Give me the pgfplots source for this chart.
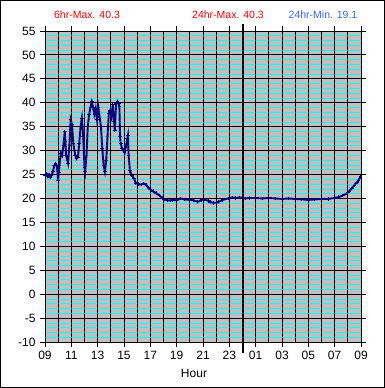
\documentclass[border=0pt]{standalone}
\usepackage{pgfplots}
\pgfplotsset{compat=1.18}
\usetikzlibrary{calc}
\usepackage{fontspec}
\setmainfont{Liberation Sans}
\definecolor{bggray}{RGB}{192,192,192}
\definecolor{gridcyan}{RGB}{0,255,255}
\definecolor{navyline}{RGB}{0,0,128}
\definecolor{titlered}{RGB}{255,0,0}
\definecolor{titleblue}{RGB}{51,102,255}
\begin{document}
\begin{tikzpicture}[x=1pt,y=1pt]
\useasboundingbox (0,0) rectangle (385,388);
\draw[line width=1.2pt] (0.6,0.6) rectangle (384.4,387.4);
\node[font=\fontsize{10.5}{12}\selectfont, text=titlered] at (87,373) {6hr-Max. 40.3};
\node[font=\fontsize{10.5}{12}\selectfont, text=titlered] at (228,373) {24hr-Max. 40.3};
\node[font=\fontsize{10.5}{12}\selectfont, text=titleblue] at (323,373) {24hr-Min. 19.1};
\node[font=\fontsize{12}{14}\selectfont] at (194,15) {Hour};
\begin{axis}[
  at={(45pt,46pt)}, anchor=south west,
  scale only axis, width=316pt, height=311pt,
  xmin=0, xmax=24, ymin=-10, ymax=55,
  axis background/.style={fill=bggray,
    path picture={
      \foreach \v in {-9,-8,-7,-6,-4,-3,-2,-1,1,2,3,4,6,7,8,9,11,12,13,14,16,17,18,19,21,22,23,24,26,27,28,29,31,32,33,34,36,37,38,39,41,42,43,44,46,47,48,49,51,52,53,54}{
        \pgfmathsetmacro\f{(\v+10)/65}
        \draw[gridcyan, line width=0.7pt]
          ($(path picture bounding box.south west)!\f!(path picture bounding box.north west)$) --
          ($(path picture bounding box.south east)!\f!(path picture bounding box.north east)$);
      }
    }},
  axis line style={black, line width=0.9pt},
  xtick={0,1,...,24}, xticklabels={},
  x tick style={draw=none},
  extra x ticks={0,2,...,24},
  extra x tick labels={09,11,13,15,17,19,21,23,01,03,05,07,09},
  extra x tick style={x tick style={draw=black, line width=0.9pt}, grid=none},
  ytick={-10,-5,...,55},
  yticklabels={-10,-5,0,5,10,15,20,25,30,35,40,45,50,55},
  y tick style={black, line width=0.9pt},
  tick align=outside, major tick length=5pt,
  xmajorgrids, ymajorgrids,
  major grid style={black, line width=0.9pt},
  ticklabel style={font=\fontsize{12}{14}\selectfont},
  xticklabel style={yshift=-1pt},
  yticklabel style={xshift=-1pt},
  clip=false,
]
\addplot[color=navyline, line width=1.9pt, mark=+, mark size=1.8pt, mark options={line width=0.9pt}] coordinates {
(0.0,24.9)(0.1,25.2)(0.2,24.6)(0.3,25.0)(0.4,24.4)(0.5,24.8)(0.6,25.6)(0.7,26.8)(0.8,27.3)(0.9,26.9)
(1.0,23.8)(1.05,25.5)(1.1,27.0)(1.2,29.5)(1.3,29.0)(1.4,31.0)(1.5,34.0)(1.55,32.0)(1.6,29.0)(1.7,28.0)
(1.75,27.4)(1.85,31.0)(1.95,36.5)(2.05,35.5)(2.15,31.5)(2.3,29.0)(2.4,28.3)(2.5,28.6)(2.6,31.5)(2.7,35.0)
(2.8,36.8)(2.9,33.0)(3.0,26.5)(3.05,25.6)(3.15,29.0)(3.25,35.0)(3.35,37.5)(3.45,39.0)(3.55,40.2)(3.65,39.0)
(3.75,37.5)(3.85,38.8)(3.95,36.5)(4.05,39.0)(4.15,37.0)(4.25,35.0)(4.35,30.5)(4.45,27.0)(4.55,25.6)(4.65,28.0)
(4.75,33.0)(4.85,37.8)(4.95,38.4)(5.05,37.1)(5.15,39.6)(5.25,36.0)(5.3,34.3)(5.4,39.8)(5.5,40.3)(5.6,39.8)
(5.65,39.2)(5.7,33.0)(5.75,31.4)(5.85,30.4)(5.95,30.0)(6.05,29.6)(6.15,31.0)(6.25,32.5)(6.3,33.2)(6.35,29.0)
(6.45,25.8)(6.6,24.8)(6.75,24.2)(6.9,23.2)(7.1,23.0)(7.3,22.9)(7.5,23.1)(7.7,22.8)(7.85,22.2)(8.0,21.9)
(8.2,21.5)(8.45,21.1)(8.7,20.6)(8.9,20.1)(9.1,19.8)(9.3,19.6)(9.5,19.6)(9.7,19.7)(10.0,19.6)(10.3,20.0)
(10.6,19.8)(11.0,19.7)(11.3,19.6)(11.6,19.3)(11.9,19.7)(12.1,19.8)(12.4,19.5)(12.6,19.2)(12.8,19.1)(13.0,19.1)
(13.2,19.3)(13.5,19.7)(13.9,20.0)(14.2,20.2)(14.5,20.1)(14.8,20.2)(15.2,20.0)(15.5,20.1)(16.0,20.1)(16.5,20.0)
(17.0,20.1)(17.5,20.0)(18.0,19.9)(18.5,20.0)(19.0,19.9)(19.5,19.8)(20.0,19.7)(20.5,19.8)(21.0,19.9)(21.5,19.9)
(22.0,20.1)(22.3,20.3)(22.6,20.6)(22.9,21.0)(23.1,21.5)(23.3,22.1)(23.5,22.8)(23.7,23.4)(23.8,23.8)(23.95,24.5)
};
\draw[black, line width=2pt] (axis cs:15,-12.4) -- (axis cs:15,56.4);
\end{axis}
\end{tikzpicture}
\end{document}
